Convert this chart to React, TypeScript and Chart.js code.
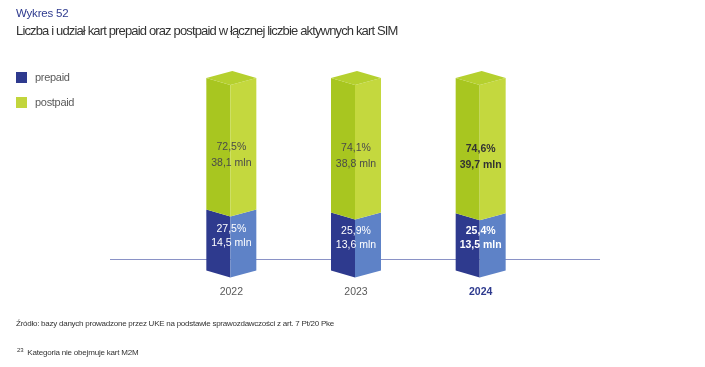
import React, { useEffect, useRef } from "react";
import { Chart, registerables } from "chart.js";
Chart.register(...registerables);

const years = ["2022", "2023", "2024"];
const seriesNames = ["prepaid", "postpaid"];
const prepaidShare = [27.5, 25.9, 25.4];
const postpaidShare = [72.5, 74.1, 74.6];
const prepaidMln = [14.5, 13.6, 13.5];
const postpaidMln = [38.1, 38.8, 39.7];
const highlightIndex = 2;

const FONT = "'Liberation Sans', Arial, sans-serif";
const COLORS = [
  { front: "#2e3a8e", side: "#5e82c7", top: "#5e82c7", legend: "#2e3a8e", text: "#ffffff" },
  { front: "#a8c620", side: "#c4d83e", top: "#b5d02e", legend: "#c2d53c", text: "#4a4a4a" },
];
const fmt = (v: number) => v.toFixed(1).replace(".", ",");

const prismPlugin = {
  id: "prism",
  beforeDatasetsDraw(chart: any) {
    const { ctx, chartArea } = chart;
    const y0 = Math.round(chart.scales.y.getPixelForValue(0)) + 0.5;
    ctx.save();
    ctx.strokeStyle = "#8a92c6";
    ctx.lineWidth = 1;
    ctx.beginPath();
    ctx.moveTo(chartArea.left - 59, y0);
    ctx.lineTo(chartArea.right + 57, y0);
    ctx.stroke();
    ctx.restore();
  },
  afterDatasetsDraw(chart: any) {
    const ctx = chart.ctx;
    const n = chart.data.datasets.length;
    const d = 7;
    ctx.save();
    chart.data.datasets.forEach((ds: any, di: number) => {
      const meta = chart.getDatasetMeta(di);
      const col = COLORS[di];
      meta.data.forEach((el: any) => {
        const { x, y, base, width } = el.getProps(["x", "y", "base", "width"], true);
        const L = x - width / 2;
        const R = x + width / 2;
        const C = x - 1;
        const bottom = di === 0 ? base + 11 : base;
        ctx.fillStyle = col.front;
        ctx.beginPath();
        ctx.moveTo(L, y);
        ctx.lineTo(C, y + d);
        ctx.lineTo(C, bottom + d);
        ctx.lineTo(L, bottom);
        ctx.closePath();
        ctx.fill();
        ctx.fillStyle = col.side;
        ctx.beginPath();
        ctx.moveTo(C, y + d);
        ctx.lineTo(R, y);
        ctx.lineTo(R, bottom);
        ctx.lineTo(C, bottom + d);
        ctx.closePath();
        ctx.fill();
        if (di === n - 1) {
          ctx.fillStyle = col.top;
          ctx.beginPath();
          ctx.moveTo(L, y);
          ctx.lineTo(L + R - C, y - d);
          ctx.lineTo(R, y);
          ctx.lineTo(C, y + d);
          ctx.closePath();
          ctx.fill();
        }
      });
    });
    ctx.textAlign = "center";
    ctx.textBaseline = "middle";
    chart.data.datasets.forEach((ds: any, di: number) => {
      const meta = chart.getDatasetMeta(di);
      meta.data.forEach((el: any, i: number) => {
        const { x, y, base } = el.getProps(["x", "y", "base"], true);
        const mid = (y + base) / 2;
        const bold = i === highlightIndex;
        ctx.font = `${bold ? "bold " : ""}10.5px ${FONT}`;
        ctx.fillStyle = di === 1 && bold ? "#333333" : COLORS[di].text;
        const pct = fmt(ds.data[i]) + "%";
        const mln = fmt(ds.mln[i]) + " mln";
        if (di === 0) {
          ctx.fillText(pct, x, mid - 5);
          ctx.fillText(mln, x, mid + 9);
        } else {
          ctx.fillText(pct, x, mid + 3);
          ctx.fillText(mln, x, mid + 19);
        }
      });
    });
    ctx.restore();
  },
};

export default function App() {
  const ref = useRef<HTMLCanvasElement | null>(null);
  useEffect(() => {
    if (!ref.current) return;
    const chart = new Chart(ref.current, {
      type: "bar",
      data: {
        labels: years,
        datasets: [
          { label: seriesNames[0], data: prepaidShare, mln: prepaidMln, backgroundColor: "transparent", borderWidth: 0, barThickness: 50 } as any,
          { label: seriesNames[1], data: postpaidShare, mln: postpaidMln, backgroundColor: "transparent", borderWidth: 0, barThickness: 50 } as any,
        ],
      },
      options: {
        responsive: false,
        animation: false,
        events: [],
        layout: { padding: { left: 169, right: 162, top: 78, bottom: 43 } },
        plugins: { legend: { display: false }, tooltip: { enabled: false } },
        scales: {
          x: {
            stacked: true,
            grid: { display: false, drawTicks: false },
            border: { display: false },
            ticks: {
              padding: 26,
              color: (c: any) => (c.index === highlightIndex ? "#2e3a8e" : "#5a5a5a"),
              font: (c: any) => ({ family: FONT, size: 10.5, weight: c.index === highlightIndex ? "bold" : "normal" }),
            },
          },
          y: { stacked: true, display: false, min: 0, max: 100 },
        },
      },
      plugins: [prismPlugin],
    });
    return () => chart.destroy();
  }, []);

  const abs = (top: number, left: number, size: number, color: string, extra: any = {}) => ({
    position: "absolute" as const,
    top,
    left,
    fontSize: size,
    lineHeight: `${size}px`,
    color,
    fontFamily: FONT,
    whiteSpace: "nowrap" as const,
    ...extra,
  });

  return (
    <div style={{ position: "absolute", left: 0, top: 0, width: 705, height: 367, background: "#fff", overflow: "hidden" }}>
      <canvas ref={ref} width={705} height={367} style={{ position: "absolute", left: 0, top: 0, display: "block" }} />
      <div style={abs(7.6, 16, 11.5, "#2e3a8e", { letterSpacing: "-0.2px" })}>Wykres 52</div>
      <div style={abs(24, 16, 13, "#333333", { letterSpacing: "-0.85px" })}>
        Liczba i udział kart prepaid oraz postpaid w łącznej liczbie aktywnych kart SIM
      </div>
      {seriesNames.map((name, i) => (
        <div key={name}>
          <div style={{ position: "absolute", left: 16, top: 72 + i * 25, width: 11, height: 11, background: COLORS[i].legend }} />
          <div style={abs(71.7 + i * 25, 35, 11, "#5a5a5a", { letterSpacing: "-0.3px" })}>{name}</div>
        </div>
      ))}
      <div style={abs(320, 16, 8, "#333333", { letterSpacing: "-0.25px" })}>
        Źródło: bazy danych prowadzone przez UKE na podstawie sprawozdawczości z art. 7 Pt/20 Pke
      </div>
      <div style={abs(345.5, 17, 8, "#333333", { letterSpacing: "-0.2px" })}>
        <sup style={{ fontSize: 6, verticalAlign: "3px", marginRight: 4 }}>23</sup>Kategoria nie obejmuje kart M2M
      </div>
    </div>
  );
}
